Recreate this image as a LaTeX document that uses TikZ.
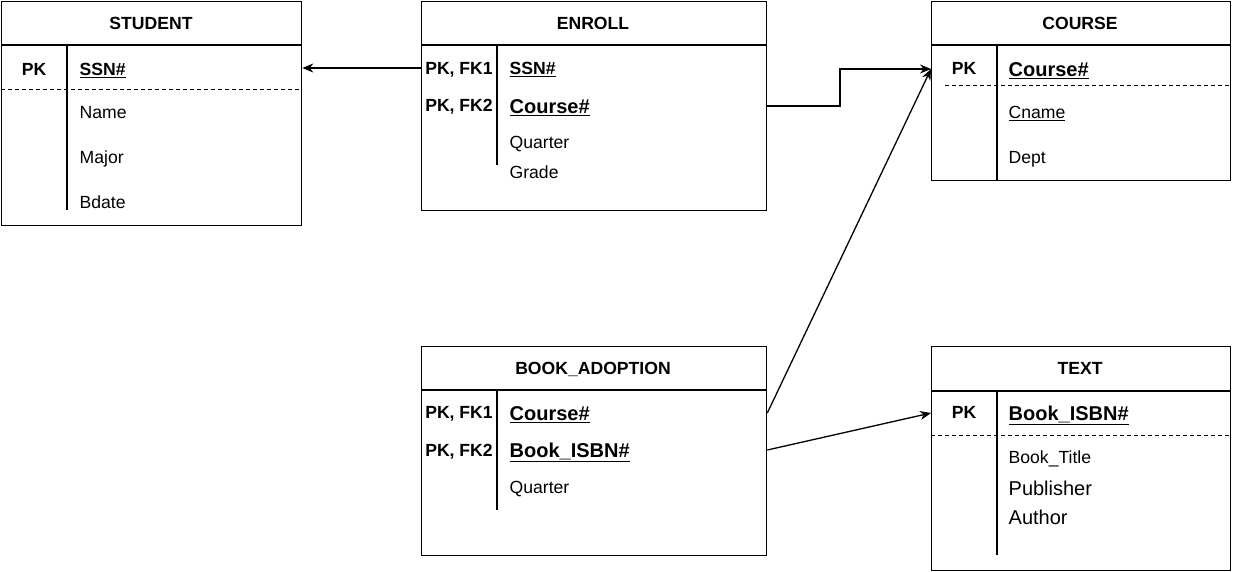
\documentclass[tikz,border=0pt]{standalone}
\usepackage{fontspec}
\setmainfont{Liberation Sans}
\usetikzlibrary{arrows.meta,positioning}

\newcommand{\attrfont}{\fontsize{17.6}{20}\selectfont}
\newcommand{\bigattrfont}{\fontsize{20}{23}\selectfont}
\newcommand{\titlefont}{\fontsize{17.6}{20}\selectfont\bfseries}

\tikzset{
  entity/.style={draw, anchor=north west, inner sep=0pt},
  title/.style={inner sep=0pt, text height=12.6pt, text depth=0pt, font=\titlefont},
  attr/.style={anchor=west, inner sep=0pt, text height=12.6pt, text depth=0pt, font=\attrfont},
  bigattr/.style={anchor=west, inner sep=0pt, text height=14.3pt, text depth=0pt, font=\bigattrfont\bfseries},
  keyattr/.style={inner sep=0pt, text height=12.6pt, text depth=0pt, font=\attrfont\bfseries},
  dashsep/.style={line width=1pt, dash pattern=on 4pt off 3pt},
}

\begin{document}
\begin{tikzpicture}[x=1pt, y=-1pt, line width=1.3pt, >={Stealth[length=11pt, width=9pt]}]
    \useasboundingbox (0,0) rectangle (1233,572);

    % STUDENT
    \node[entity, minimum width=300pt, minimum height=224pt] (student) at (1,1) {};
    \node[title] (studenttitle) at (151,23) {STUDENT};
    \draw (1,45) -- (301,45);
    \draw (67,45) -- (67,210);
    \draw[dashsep] (1,90) -- (301,90);
    \node[keyattr] (stdpk) at (34,69) {PK};
    \node[attr, font=\attrfont\bfseries] (stdssn) at (79,69) {\underline{SSN\#}};
    \node[attr] (stdname) at (79,112) {Name};
    \node[attr] (stdmajor) at (79,157) {Major};
    \node[attr] (stdbdate) at (79,202) {Bdate};

    % ENROLL
    \node[entity, minimum width=345pt, minimum height=209pt] (enroll) at (421,1) {};
    \node[title] (enrolltitle) at (593,23) {ENROLL};
    \draw (421,45) -- (766,45);
    \draw (497,45) -- (497,165);
    \node[keyattr] (enrpk1) at (459,68) {PK, FK1};
    \node[keyattr] (enrpk2) at (459,105) {PK, FK2};
    \node[attr, font=\attrfont\bfseries] (enrssn) at (509,68) {\underline{SSN\#}};
    \node[bigattr] (enrcourse) at (509,106) {\underline{Course\#}};
    \node[attr] (enrquarter) at (509,142) {Quarter};
    \node[attr] (enrgrade) at (509,172) {Grade};

    % COURSE
    \node[entity, minimum width=299pt, minimum height=179pt] (course) at (931,1) {};
    \node[title] (coursetitle) at (1080,23) {COURSE};
    \draw (931,45) -- (1230,45);
    \draw (997,45) -- (997,180);
    \draw[dashsep] (945,86) -- (1230,86);
    \node[keyattr] (crspk) at (964,68) {PK};
    \node[bigattr] (crscourse) at (1008,69) {\underline{Course\#}};
    \node[attr] (crscname) at (1008,112) {\underline{Cname}};
    \node[attr] (crsdept) at (1008,157) {Dept};

    % BOOK_ADOPTION
    \node[entity, minimum width=345pt, minimum height=209pt] (bookad) at (421,346) {};
    \node[title] (bookadtitle) at (593,368) {BOOK\_ADOPTION};
    \draw (421,390) -- (766,390);
    \draw (497,390) -- (497,510);
    \node[keyattr] (bkpk1) at (459,412) {PK, FK1};
    \node[keyattr] (bkpk2) at (459,450) {PK, FK2};
    \node[bigattr] (bkcourse) at (509,413) {\underline{Course\#}};
    \node[bigattr] (bkisbn) at (509,450) {\underline{Book\_ISBN\#}};
    \node[attr] (bkquarter) at (509,487) {Quarter};

    % TEXT
    \node[entity, minimum width=299pt, minimum height=224pt] (text) at (931,346) {};
    \node[title] (texttitle) at (1080,368) {TEXT};
    \draw (931,391) -- (1230,391);
    \draw (997,391) -- (997,555);
    \draw[dashsep] (931,435) -- (1230,435);
    \node[keyattr] (txtpk) at (964,412) {PK};
    \node[bigattr] (txtisbn) at (1008,413) {\underline{Book\_ISBN\#}};
    \node[attr] (txttitle) at (1008,457) {Book\_Title};
    \node[attr, font=\bigattrfont] (txtpublisher) at (1008,489) {Publisher};
    \node[attr, font=\bigattrfont] (txtauthor) at (1008,518) {Author};

    % relationships
    \coordinate (enrbend) at (840,106);
    \draw[->] (enroll.west |- enrssn) -- (student.east |- enrssn);
    \draw[->] (enroll.east |- enrcourse) -- (enrbend) |- (course.west |- crscourse);
    \draw[->] (bookad.east |- bkcourse) -- (course.west |- crscourse);
    \draw[->] (bookad.east |- bkisbn) -- (text.west |- txtisbn);
\end{tikzpicture}
\end{document}
